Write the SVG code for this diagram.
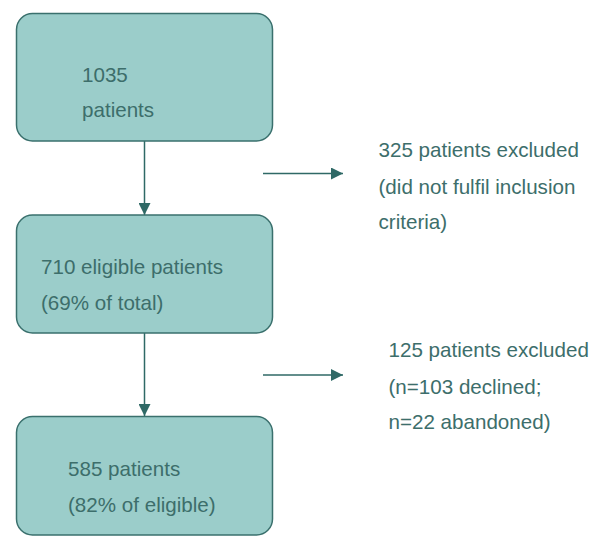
<svg xmlns="http://www.w3.org/2000/svg" width="600" height="548" viewBox="0 0 600 548">
<style>
.box{fill:#9bcdca;stroke:#3a706d;stroke-width:1.5}
.t{font-family:"Liberation Sans",Arial,sans-serif;font-size:20.6px;fill:#3d6e6b}
.c{stroke:#2f6966;stroke-width:1.5;fill:none}
</style>
<defs>
<marker id="ah" viewBox="0 0 12 12" refX="12" refY="6" markerWidth="12" markerHeight="12" markerUnits="userSpaceOnUse" orient="auto">
<path d="M0,0 L12,6 L0,12 Z" fill="#2f6966"/>
</marker>
</defs>
<rect width="600" height="548" fill="#ffffff"/>
<g id="connectors">
<line class="c" x1="144.5" y1="141" x2="144.5" y2="215" marker-end="url(#ah)"/>
<line class="c" x1="144.5" y1="333" x2="144.5" y2="416" marker-end="url(#ah)"/>
<line class="c" x1="263" y1="173.5" x2="343" y2="173.5" marker-end="url(#ah)"/>
<line class="c" x1="263" y1="375" x2="343" y2="375" marker-end="url(#ah)"/>
</g>
<g id="node1">
<rect class="box" x="16.5" y="13.5" width="256" height="127.5" rx="16"/>
<text class="t" x="82" y="81.5">1035</text>
<text class="t" x="82" y="116.5">patients</text>
</g>
<g id="node2">
<rect class="box" x="16.5" y="215" width="256" height="118" rx="16"/>
<text class="t" x="41" y="273.5">710 eligible patients</text>
<text class="t" x="41" y="309.5">(69% of total)</text>
</g>
<g id="node3">
<rect class="box" x="16.5" y="416.5" width="256" height="118.5" rx="16"/>
<text class="t" x="68" y="476">585 patients</text>
<text class="t" x="68" y="512">(82% of eligible)</text>
</g>
<g id="excluded1">
<text class="t" x="378.5" y="157">325 patients excluded</text>
<text class="t" x="378.5" y="193.5">(did not fulfil inclusion</text>
<text class="t" x="378.5" y="228.5">criteria)</text>
</g>
<g id="excluded2">
<text class="t" x="388.5" y="357">125 patients excluded</text>
<text class="t" x="388.5" y="393.5">(n=103 declined;</text>
<text class="t" x="388.5" y="428.5">n=22 abandoned)</text>
</g>
</svg>
